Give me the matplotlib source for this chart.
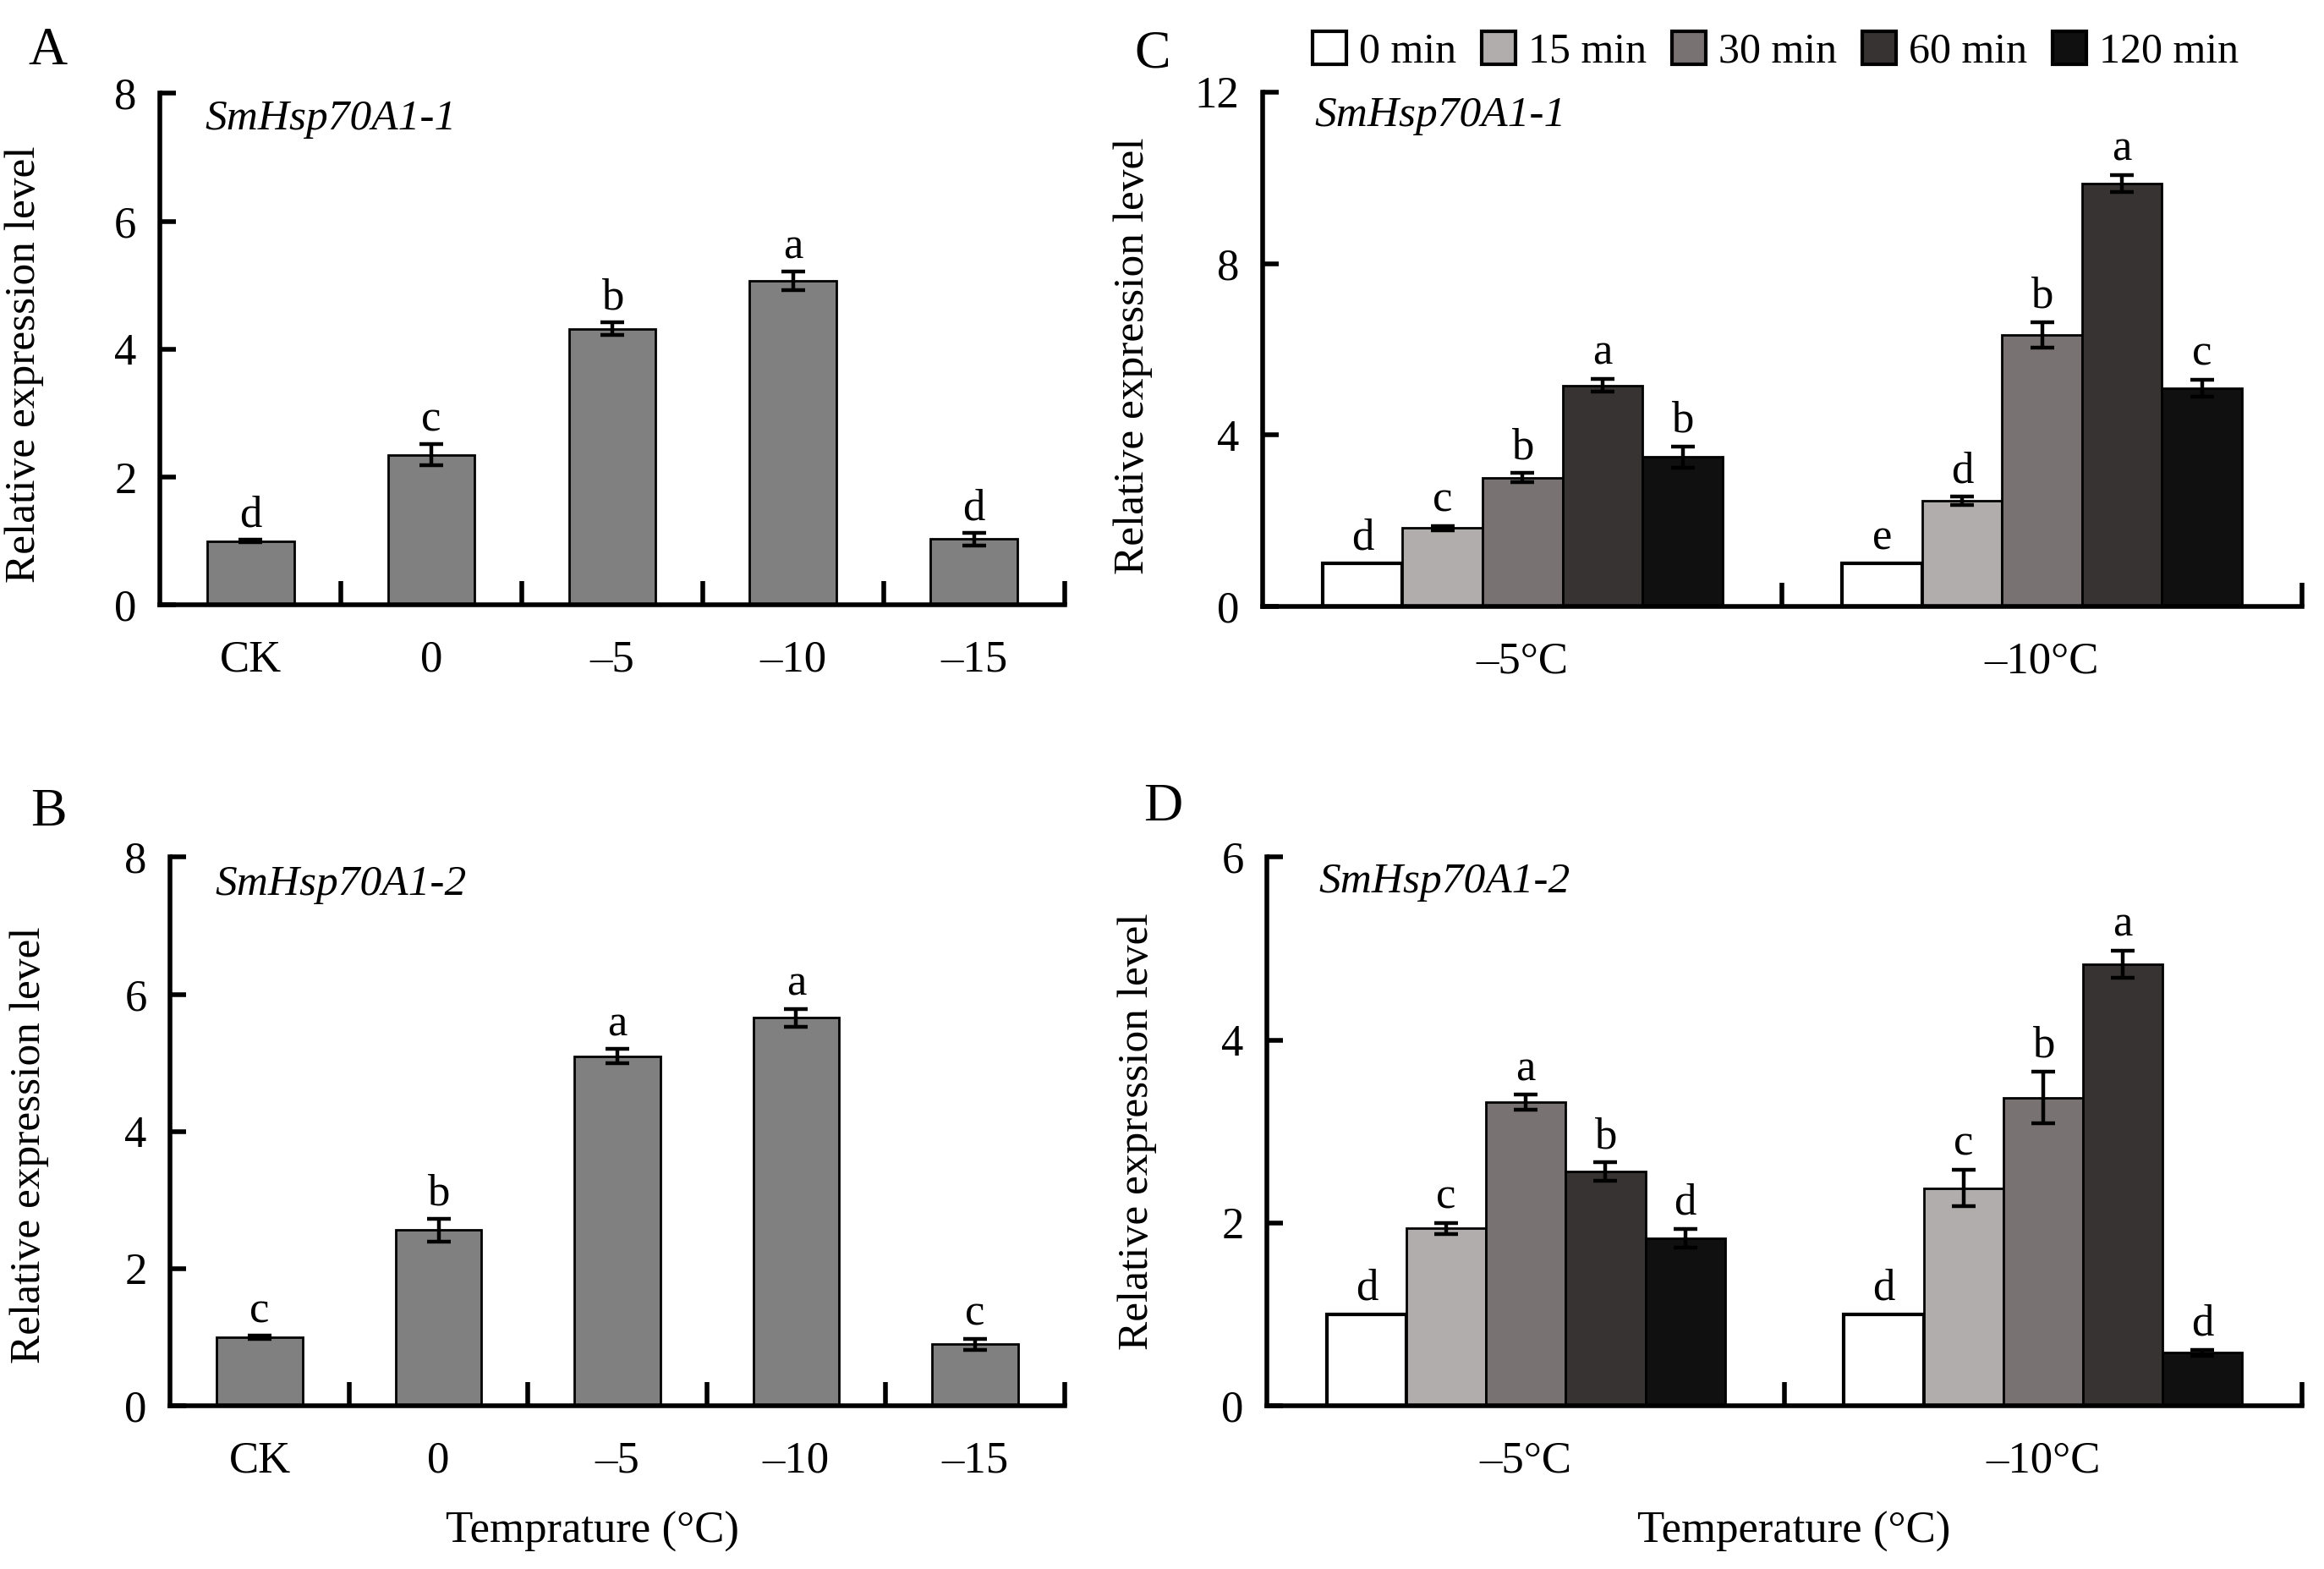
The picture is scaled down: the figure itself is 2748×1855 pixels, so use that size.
import numpy as np
import matplotlib
matplotlib.use("Agg")
import matplotlib.pyplot as plt
from matplotlib.patches import Patch

plt.rcParams['font.family'] = ['Liberation Serif', 'DejaVu Serif']
plt.rcParams['font.size'] = 19

# panels A and B: single series per temperature
temps = ['CK', '0', '–5', '–10', '–15']
a_vals = [1.00, 2.35, 4.32, 5.07, 1.03]
a_errs = [0.02, 0.17, 0.10, 0.15, 0.10]
a_sig = ['d', 'c', 'b', 'a', 'd']
b_vals = [1.00, 2.56, 5.10, 5.66, 0.90]
b_errs = [0.02, 0.17, 0.10, 0.13, 0.08]
b_sig = ['c', 'b', 'a', 'a', 'c']

# panels C and D: time series in two temperature groups
groups = ['–5°C', '–10°C']
times = ['0 min', '15 min', '30 min', '60 min', '120 min']
time_colors = ['#ffffff', '#b0adac', '#787272', '#373332', '#111010']
c_vals = [[1.00, 1.83, 3.01, 5.16, 3.49],
          [1.00, 2.46, 6.33, 9.86, 5.09]]
c_errs = [[0.00, 0.05, 0.10, 0.15, 0.25],
          [0.00, 0.10, 0.30, 0.20, 0.20]]
c_sig = [['d', 'c', 'b', 'a', 'b'],
         ['e', 'd', 'b', 'a', 'c']]
d_vals = [[1.00, 1.94, 3.32, 2.56, 1.83],
          [1.00, 2.38, 3.37, 4.83, 0.58]]
d_errs = [[0.00, 0.06, 0.08, 0.10, 0.10],
          [0.00, 0.20, 0.28, 0.15, 0.03]]
d_sig = [['d', 'c', 'a', 'b', 'd'],
         ['d', 'c', 'b', 'a', 'd']]


def style_axes(ax, ymax, ystep, bounds):
    ax.spines['top'].set_visible(False)
    ax.spines['right'].set_visible(False)
    ax.spines['left'].set_linewidth(2)
    ax.spines['bottom'].set_linewidth(2)
    ax.set_ylim(0, ymax)
    ax.set_yticks(np.arange(0, ymax + 0.1, ystep))
    ax.tick_params(axis='y', direction='in', length=7, width=2, pad=10, labelsize=19)
    ax.tick_params(axis='x', which='major', length=0, pad=15, labelsize=19)
    ax.set_xticks(bounds, minor=True)
    ax.tick_params(axis='x', which='minor', direction='in', length=10, width=2)
    ax.set_ylabel('Relative expression level', fontsize=18.5)


def single_panel(ax, vals, errs, sig, gene, ylab_x, ylab_y):
    x = np.arange(len(temps))
    ax.bar(x, vals, width=0.48, color='#808080', edgecolor='black', linewidth=1, zorder=2)
    ax.errorbar(x, vals, yerr=errs, fmt='none', ecolor='black', elinewidth=1.6,
                capsize=5, capthick=1.6, zorder=3)
    for xi, v, e, s in zip(x, vals, errs, sig):
        ax.text(xi, v + e + 0.06, s, ha='center', va='bottom', fontsize=19)
    ax.set_xlim(-0.5, len(temps) - 0.5)
    ax.set_xticks(x)
    ax.set_xticklabels(temps)
    style_axes(ax, 8, 2, np.arange(0.5, len(temps), 1.0))
    ax.yaxis.set_label_coords(ylab_x, ylab_y)
    ax.text(0.05, 0.95, gene, transform=ax.transAxes, style='italic',
            ha='left', va='center', fontsize=18.5)


def group_panel(ax, vals, errs, sig, gene, ymax, ystep, off, ylab_x, ylab_y):
    x = np.arange(len(groups))
    w = 0.154
    for i in range(len(times)):
        v = np.array([vals[g][i] for g in range(len(groups))])
        e = np.array([errs[g][i] for g in range(len(groups))])
        pos = x + (i - 2) * w
        ax.bar(pos, v, width=w, color=time_colors[i], edgecolor='black',
               linewidth=1.5 if i == 0 else 1, zorder=2)
        has_err = e > 0
        if has_err.any():
            ax.errorbar(pos[has_err], v[has_err], yerr=e[has_err], fmt='none', ecolor='black',
                        elinewidth=1.6, capsize=5, capthick=1.6, zorder=3)
        for p, vv, ee, g in zip(pos, v, e, range(len(groups))):
            ax.text(p, vv + ee + off, sig[g][i], ha='center', va='bottom', fontsize=19)
    ax.set_xlim(-0.5, len(groups) - 0.5)
    ax.set_xticks(x)
    ax.set_xticklabels(groups)
    style_axes(ax, ymax, ystep, [0.5, 1.5])
    ax.yaxis.set_label_coords(ylab_x, ylab_y)
    ax.text(0.05, 0.954, gene, transform=ax.transAxes, style='italic',
            ha='left', va='center', fontsize=18.5)


fig = plt.figure(figsize=(13.74, 9.275), dpi=200)
ax_a = fig.add_axes([0.0689, 0.6144, 0.3891, 0.3261])
ax_b = fig.add_axes([0.0733, 0.1040, 0.3847, 0.3497])
ax_c = fig.add_axes([0.5434, 0.6134, 0.4470, 0.3280])
ax_d = fig.add_axes([0.5453, 0.1040, 0.4451, 0.3497])

single_panel(ax_a, a_vals, a_errs, a_sig, 'SmHsp70A1-1', -0.128, 0.47)
single_panel(ax_b, b_vals, b_errs, b_sig, 'SmHsp70A1-2', -0.136, 0.476)
group_panel(ax_c, c_vals, c_errs, c_sig, 'SmHsp70A1-1', 12, 4, 0.12, -0.106, 0.487)
group_panel(ax_d, d_vals, d_errs, d_sig, 'SmHsp70A1-2', 6, 2, 0.06, -0.107, 0.50)

fig.text(0.012, 0.967, 'A', fontsize=23, ha='left', va='center')
fig.text(0.013, 0.482, 'B', fontsize=23, ha='left', va='center')
fig.text(0.488, 0.965, 'C', fontsize=23, ha='left', va='center')
fig.text(0.492, 0.485, 'D', fontsize=23, ha='left', va='center')

fig.text(0.255, 0.024, 'Temprature (°C)', ha='center', va='center', fontsize=19)
fig.text(0.772, 0.024, 'Temperature (°C)', ha='center', va='center', fontsize=19)

handles = [Patch(facecolor=c, edgecolor='black', linewidth=1.5) for c in time_colors]
fig.legend(handles, times, loc='center', bbox_to_anchor=(0.764, 0.967), ncol=5,
           frameon=False, handlelength=0.8, handleheight=0.8, handletextpad=0.3,
           columnspacing=0.6, fontsize=18)

fig.savefig('out.png', dpi=200)
